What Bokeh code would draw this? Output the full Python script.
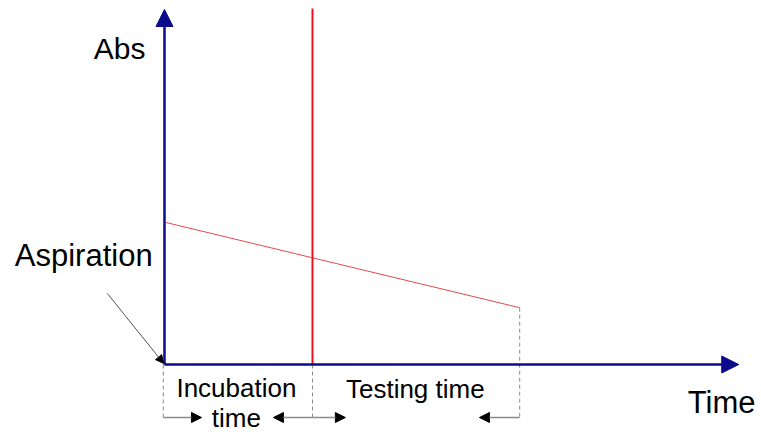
from bokeh.plotting import figure
from bokeh.models import Range1d, Arrow, NormalHead
from bokeh.core.properties import value
from bokeh.embed import file_html
from bokeh.resources import INLINE

# ---- data (conceptual units) ----
phase_times = [0.0, 5.0, 12.0]          # aspiration, end of incubation, end of testing
abs_times = [0.05, 12.0]                # absorbance trace time span
abs_values = [0.50, 0.20]               # absorbance at start / end of trace
time_axis_max = 19.4
abs_axis_max = 1.25
axis_labels = ["Abs", "Time"]
phase_labels = [["Incubation", "time"], ["Testing time"]]
event_label = "Aspiration"

# ---- figure (data -> pixel scale through ranges) ----
W, H = 761, 432
p = figure(width=W, height=H, output_backend="svg", toolbar_location=None,
           x_range=Range1d(-5.5405, 20.169), y_range=Range1d(-0.2394, 1.2817),
           min_border=0, outline_line_color=None)
p.axis.visible = False
p.grid.visible = False
p.background_fill_color = "white"
p.border_fill_color = "white"

FONT = value("Liberation Sans")
NAVY = "#0b0b8c"

t0, t_inc, t_end = phase_times
y_arrow = -0.1866
dy = 0.035  # text baseline correction

# dashed guide lines
p.segment(x0=[t0 - 0.04, t_inc], y0=[0, 0], x1=[t0 - 0.04, t_inc], y1=[y_arrow, y_arrow],
          line_color="#8a8a8a", line_width=1, line_dash="4 3")
p.segment(x0=[t_end], y0=[abs_values[1]], x1=[t_end], y1=[y_arrow],
          line_color="#8a8a8a", line_width=1, line_dash="4 3")

# absorbance trace
p.line(abs_times, abs_values, line_color="#e34a4a", line_width=1)

# end-of-incubation marker
p.segment(x0=[t_inc], y0=[0], x1=[t_inc], y1=[1.2535], line_color="#e8141c", line_width=2)

# axes with arrow heads
p.add_layout(Arrow(end=NormalHead(size=17, fill_color=NAVY, line_color=NAVY),
                   x_start=t0, y_start=0, x_end=time_axis_max, y_end=0,
                   line_color=NAVY, line_width=2.5))
p.add_layout(Arrow(end=NormalHead(size=17, fill_color=NAVY, line_color=NAVY),
                   x_start=t0, y_start=0, x_end=t0, y_end=abs_axis_max,
                   line_color=NAVY, line_width=2.5))

# aspiration pointer
p.add_layout(Arrow(end=NormalHead(size=8, fill_color="black", line_color="black"),
                   x_start=t0 - 1.93, y_start=0.25, x_end=t0 - 0.03, y_end=0.004,
                   line_color="#555555", line_width=1))

# duration arrows along the bottom
def dur_arrow(xs, xe):
    p.add_layout(Arrow(end=NormalHead(size=10, fill_color="black", line_color="black"),
                       x_start=xs, y_start=y_arrow, x_end=xe, y_end=y_arrow,
                       line_color="#8a8a8a", line_width=1.5))

dur_arrow(t0 - 0.04, t0 + 1.25)
dur_arrow(t_inc, t_inc - 1.32)
dur_arrow(t_inc, t_inc + 1.11)
dur_arrow(t_end, t_end - 1.36)

# texts
p.text(x=[t0 - 0.64], y=[1.077 + dy], text=[axis_labels[0]], text_font=FONT,
       text_font_size="30px", text_align="right", text_baseline="alphabetic", text_color="black")
p.text(x=[17.68], y=[-0.169 + dy], text=[axis_labels[1]], text_font=FONT,
       text_font_size="31px", text_align="left", text_baseline="alphabetic", text_color="black")
p.text(x=[t0 - 0.4], y=[0.3486 + dy], text=[event_label], text_font=FONT,
       text_font_size="31px", text_align="right", text_baseline="alphabetic", text_color="black")
inc_c = (t0 + t_inc) / 2 - 0.07
p.text(x=[inc_c], y=[-0.116 + dy], text=[phase_labels[0][0]], text_font=FONT,
       text_font_size="26px", text_align="center", text_baseline="alphabetic", text_color="black")
p.text(x=[inc_c], y=[-0.2218 + dy], text=[phase_labels[0][1]], text_font=FONT,
       text_font_size="26px", text_align="center", text_baseline="alphabetic", text_color="black")
p.text(x=[t_inc + 1.13], y=[-0.12 + dy], text=[phase_labels[1][0]], text_font=FONT,
       text_font_size="26px", text_align="left", text_baseline="alphabetic", text_color="black")

open("out.html", "w").write(file_html(p, INLINE))
